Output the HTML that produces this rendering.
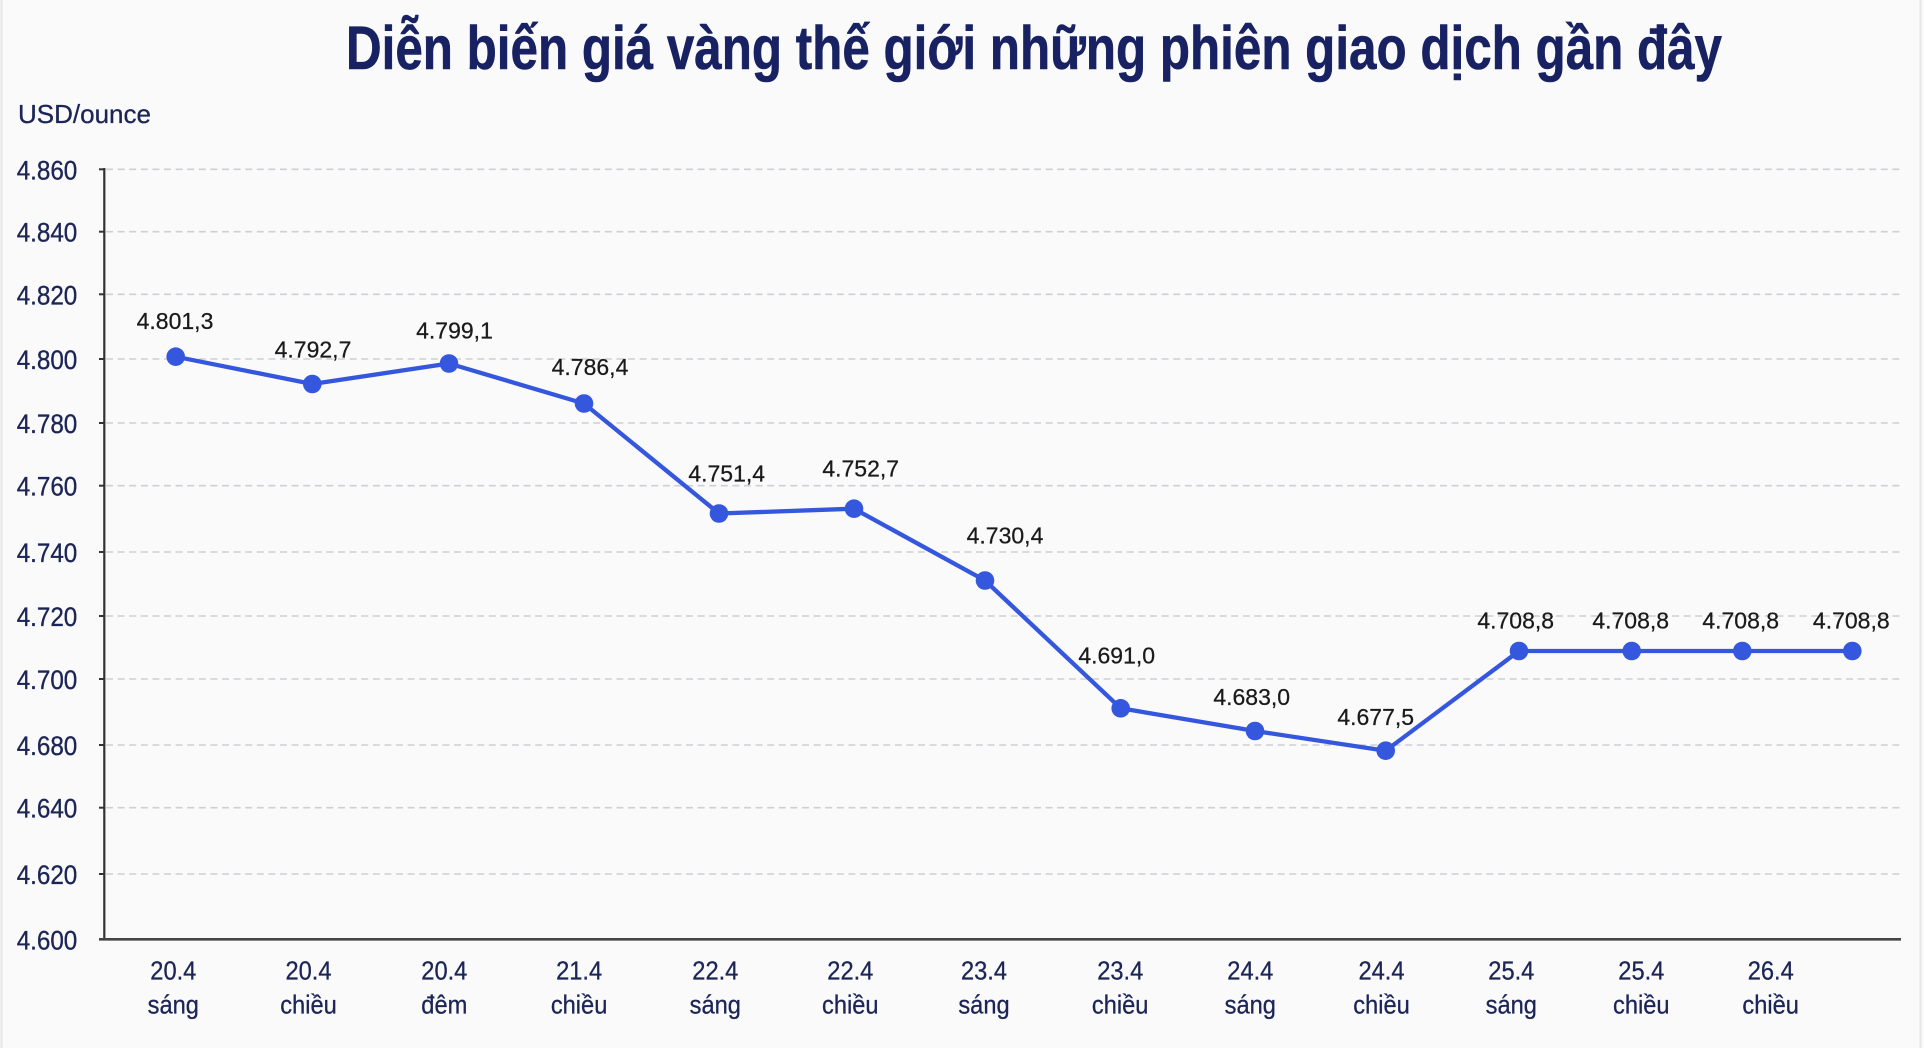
<!DOCTYPE html>
<html>
<head>
<meta charset="utf-8">
<style>
  html,body{margin:0;padding:0;background:#fafafb;}
  svg{display:block;}
</style>
</head>
<body>
<svg width="1924" height="1048" viewBox="0 0 1924 1048" xmlns="http://www.w3.org/2000/svg" font-family="'Liberation Sans', Arial, sans-serif">
  <rect x="0" y="0" width="1924" height="1048" fill="#fafafb"/>
  <!-- borders -->
  <line x1="1.5" y1="0" x2="1.5" y2="1048" stroke="#e6e6ea" stroke-width="2"/>
  <line x1="1920.5" y1="0" x2="1920.5" y2="1048" stroke="#e6e6ea" stroke-width="2"/>

  <!-- Title -->
  <text x="346" y="69" font-size="61" font-weight="bold" fill="#182262" stroke="#182262" stroke-width="0.6" textLength="1376" lengthAdjust="spacingAndGlyphs">Diễn biến giá vàng thế giới những phiên giao dịch gần đây</text>

  <!-- unit -->
  <text x="18" y="123" font-size="26" fill="#1c2556" stroke="#1c2556" stroke-width="0.3">USD/ounce</text>

  <!-- gridlines -->
  <g stroke="#cfcfd4" stroke-width="1.6" stroke-dasharray="7 4.6">
    <line x1="106" y1="169.3" x2="1900" y2="169.3"/>
    <line x1="106" y1="231.7" x2="1900" y2="231.7"/>
    <line x1="106" y1="294.3" x2="1900" y2="294.3"/>
    <line x1="106" y1="359" x2="1900" y2="359"/>
    <line x1="106" y1="423" x2="1900" y2="423"/>
    <line x1="106" y1="485.7" x2="1900" y2="485.7"/>
    <line x1="106" y1="552" x2="1900" y2="552"/>
    <line x1="106" y1="616" x2="1900" y2="616"/>
    <line x1="106" y1="679" x2="1900" y2="679"/>
    <line x1="106" y1="745" x2="1900" y2="745"/>
    <line x1="106" y1="807.7" x2="1900" y2="807.7"/>
    <line x1="106" y1="874" x2="1900" y2="874"/>
  </g>

  <!-- ticks -->
  <g stroke="#333" stroke-width="2">
    <line x1="99" y1="169.3" x2="105" y2="169.3"/>
    <line x1="99" y1="231.7" x2="105" y2="231.7"/>
    <line x1="99" y1="294.3" x2="105" y2="294.3"/>
    <line x1="99" y1="359" x2="105" y2="359"/>
    <line x1="99" y1="423" x2="105" y2="423"/>
    <line x1="99" y1="485.7" x2="105" y2="485.7"/>
    <line x1="99" y1="552" x2="105" y2="552"/>
    <line x1="99" y1="616" x2="105" y2="616"/>
    <line x1="99" y1="679" x2="105" y2="679"/>
    <line x1="99" y1="745" x2="105" y2="745"/>
    <line x1="99" y1="807.7" x2="105" y2="807.7"/>
    <line x1="99" y1="874" x2="105" y2="874"/>
  </g>

  <!-- axes -->
  <line x1="104.3" y1="168" x2="104.3" y2="940" stroke="#333" stroke-width="2.2"/>
  <line x1="99" y1="939.3" x2="1901" y2="939.3" stroke="#444" stroke-width="2.6"/>

  <!-- y labels -->
  <g font-size="27" fill="#1c2556" stroke="#1c2556" stroke-width="0.35" text-anchor="end">
    <text x="77.3" y="179.3" textLength="60.6" lengthAdjust="spacingAndGlyphs">4.860</text>
    <text x="77.3" y="241.7" textLength="60.6" lengthAdjust="spacingAndGlyphs">4.840</text>
    <text x="77.3" y="304.3" textLength="60.6" lengthAdjust="spacingAndGlyphs">4.820</text>
    <text x="77.3" y="369" textLength="60.6" lengthAdjust="spacingAndGlyphs">4.800</text>
    <text x="77.3" y="433" textLength="60.6" lengthAdjust="spacingAndGlyphs">4.780</text>
    <text x="77.3" y="495.7" textLength="60.6" lengthAdjust="spacingAndGlyphs">4.760</text>
    <text x="77.3" y="562" textLength="60.6" lengthAdjust="spacingAndGlyphs">4.740</text>
    <text x="77.3" y="626" textLength="60.6" lengthAdjust="spacingAndGlyphs">4.720</text>
    <text x="77.3" y="689" textLength="60.6" lengthAdjust="spacingAndGlyphs">4.700</text>
    <text x="77.3" y="755" textLength="60.6" lengthAdjust="spacingAndGlyphs">4.680</text>
    <text x="77.3" y="817.7" textLength="60.6" lengthAdjust="spacingAndGlyphs">4.640</text>
    <text x="77.3" y="884" textLength="60.6" lengthAdjust="spacingAndGlyphs">4.620</text>
    <text x="77.3" y="949.3" textLength="60.6" lengthAdjust="spacingAndGlyphs">4.600</text>
  </g>

  <!-- x labels -->
  <g font-size="26" fill="#1c2556" stroke="#1c2556" stroke-width="0.3" text-anchor="middle">
    <g transform="translate(173.3,0) scale(0.91,1)"><text x="0" y="979.3">20.4</text><text x="0" y="1013.3">sáng</text></g>
    <g transform="translate(308.5,0) scale(0.91,1)"><text x="0" y="979.3">20.4</text><text x="0" y="1013.3">chiều</text></g>
    <g transform="translate(444.3,0) scale(0.91,1)"><text x="0" y="979.3">20.4</text><text x="0" y="1013.3">đêm</text></g>
    <g transform="translate(579.1,0) scale(0.91,1)"><text x="0" y="979.3">21.4</text><text x="0" y="1013.3">chiều</text></g>
    <g transform="translate(715.3,0) scale(0.91,1)"><text x="0" y="979.3">22.4</text><text x="0" y="1013.3">sáng</text></g>
    <g transform="translate(850.3,0) scale(0.91,1)"><text x="0" y="979.3">22.4</text><text x="0" y="1013.3">chiều</text></g>
    <g transform="translate(984,0) scale(0.91,1)"><text x="0" y="979.3">23.4</text><text x="0" y="1013.3">sáng</text></g>
    <g transform="translate(1120.2,0) scale(0.91,1)"><text x="0" y="979.3">23.4</text><text x="0" y="1013.3">chiều</text></g>
    <g transform="translate(1250.3,0) scale(0.91,1)"><text x="0" y="979.3">24.4</text><text x="0" y="1013.3">sáng</text></g>
    <g transform="translate(1381.5,0) scale(0.91,1)"><text x="0" y="979.3">24.4</text><text x="0" y="1013.3">chiều</text></g>
    <g transform="translate(1511.3,0) scale(0.91,1)"><text x="0" y="979.3">25.4</text><text x="0" y="1013.3">sáng</text></g>
    <g transform="translate(1641.3,0) scale(0.91,1)"><text x="0" y="979.3">25.4</text><text x="0" y="1013.3">chiều</text></g>
    <g transform="translate(1770.7,0) scale(0.91,1)"><text x="0" y="979.3">26.4</text><text x="0" y="1013.3">chiều</text></g>
  </g>

  <!-- series line -->
  <polyline fill="none" stroke="#3557dd" stroke-width="4.3" stroke-linejoin="round"
    points="175.7,356.7 312.3,384 449,363.5 584,403.5 719,513.5 854,508.7 985,580.5 1120.7,708.3 1255,731 1385.7,750.7 1519,651 1631.7,651 1742.3,651 1852.3,651"/>
  <g fill="#3557dd">
    <circle cx="175.7" cy="356.7" r="9.3"/>
    <circle cx="312.3" cy="384" r="9.3"/>
    <circle cx="449" cy="363.5" r="9.3"/>
    <circle cx="584" cy="403.5" r="9.3"/>
    <circle cx="719" cy="513.5" r="9.3"/>
    <circle cx="854" cy="508.7" r="9.3"/>
    <circle cx="985" cy="580.5" r="9.3"/>
    <circle cx="1120.7" cy="708.3" r="9.3"/>
    <circle cx="1255" cy="731" r="9.3"/>
    <circle cx="1385.7" cy="750.7" r="9.3"/>
    <circle cx="1519" cy="651" r="9.3"/>
    <circle cx="1631.7" cy="651" r="9.3"/>
    <circle cx="1742.3" cy="651" r="9.3"/>
    <circle cx="1852.3" cy="651" r="9.3"/>
  </g>

  <!-- data labels -->
  <g font-size="23" fill="#1a1a1a" stroke="#1a1a1a" stroke-width="0.25" text-anchor="middle">
    <text x="175" y="329">4.801,3</text>
    <text x="313" y="357.3">4.792,7</text>
    <text x="454.5" y="338.3">4.799,1</text>
    <text x="590" y="375">4.786,4</text>
    <text x="726.7" y="481.7">4.751,4</text>
    <text x="860.7" y="476.7">4.752,7</text>
    <text x="1005" y="543.3">4.730,4</text>
    <text x="1116.7" y="663.3">4.691,0</text>
    <text x="1251.7" y="705">4.683,0</text>
    <text x="1375.7" y="725">4.677,5</text>
    <text x="1515.7" y="628.3">4.708,8</text>
    <text x="1630.7" y="628.3">4.708,8</text>
    <text x="1740.7" y="628.3">4.708,8</text>
    <text x="1851.3" y="628.3">4.708,8</text>
  </g>
</svg>
</body>
</html>
